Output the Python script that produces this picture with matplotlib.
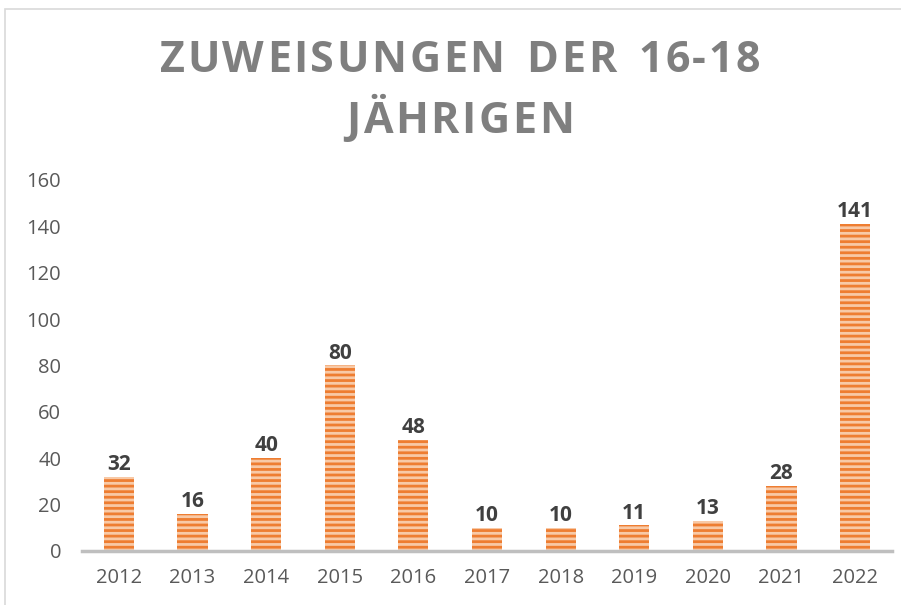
import matplotlib
matplotlib.use("Agg")
import matplotlib.pyplot as plt
from matplotlib.patches import Rectangle

years = ["2012", "2013", "2014", "2015", "2016", "2017", "2018", "2019", "2020", "2021", "2022"]
values = [32, 16, 40, 80, 48, 10, 10, 11, 13, 28, 141]
title_lines = ["ZUWEISUNGEN DER 16-18", "JÄHRIGEN"]

plt.rcParams['font.family'] = ['Open Sans', 'DejaVu Sans']
plt.rcParams['hatch.linewidth'] = 2.0
plt.rcParams['hatch.color'] = '#ee7d31'

fig = plt.figure(figsize=(9.01, 6.05), dpi=100)
fig.patches.append(Rectangle((5/901, -0.1), 1.2, 1.1 - 9/605, transform=fig.transFigure,
                             fill=False, edgecolor='#d9d9d9', linewidth=1.2))
ax = fig.add_axes([0.091, 0.0893, 0.899, 0.6132])

x = list(range(len(years)))
ax.bar(x, values, width=0.41, color='#f8c9a6', edgecolor='#ee7d31', hatch='---', linewidth=0)
for xi, v in zip(x, values):
    ax.annotate(str(v), (xi, v), xytext=(0, 5), textcoords='offset points',
                ha='center', va='baseline', fontsize=15, fontweight='bold', color='#404040')

ax.set_xlim(-0.5, len(years) - 0.5)
ax.set_ylim(0, 160)
ax.set_yticks(range(0, 161, 20))
ax.set_xticks(x)
ax.set_xticklabels(years)
ax.tick_params(axis='both', length=0, labelsize=14.5, colors='#595959')
ax.tick_params(axis='y', pad=15)
ax.tick_params(axis='x', pad=12)
for s in ['top', 'right', 'left']:
    ax.spines[s].set_visible(False)
ax.spines['bottom'].set_color('#bfbfbf')
ax.spines['bottom'].set_linewidth(2.5)

# Title with letter spacing
fig.canvas.draw()
renderer = fig.canvas.get_renderer()
FS = 31

def char_widths(text):
    widths = []
    for ch in text:
        t = fig.text(0, 0, ch if ch != ' ' else 'n', fontsize=FS, fontweight='bold')
        w = t.get_window_extent(renderer).width
        t.remove()
        widths.append(w * (0.6 if ch == ' ' else 1.0))
    return widths

w1 = char_widths(title_lines[0])
spacing = (600 - sum(w1)) / (len(title_lines[0]) - 1)

def spaced_title(text, baseline, widths):
    total = sum(widths) + spacing * (len(text) - 1)
    xpos = 460 - total / 2
    for ch, w in zip(text, widths):
        if ch != ' ':
            fig.text(xpos / 901, 1 - baseline / 605, ch, fontsize=FS, fontweight='bold',
                     color='#7f7f7f', ha='left', va='baseline')
        xpos += w + spacing

spaced_title(title_lines[0], 72, w1)
spaced_title(title_lines[1], 133, char_widths(title_lines[1]))

fig.savefig("out.png", dpi=100)
